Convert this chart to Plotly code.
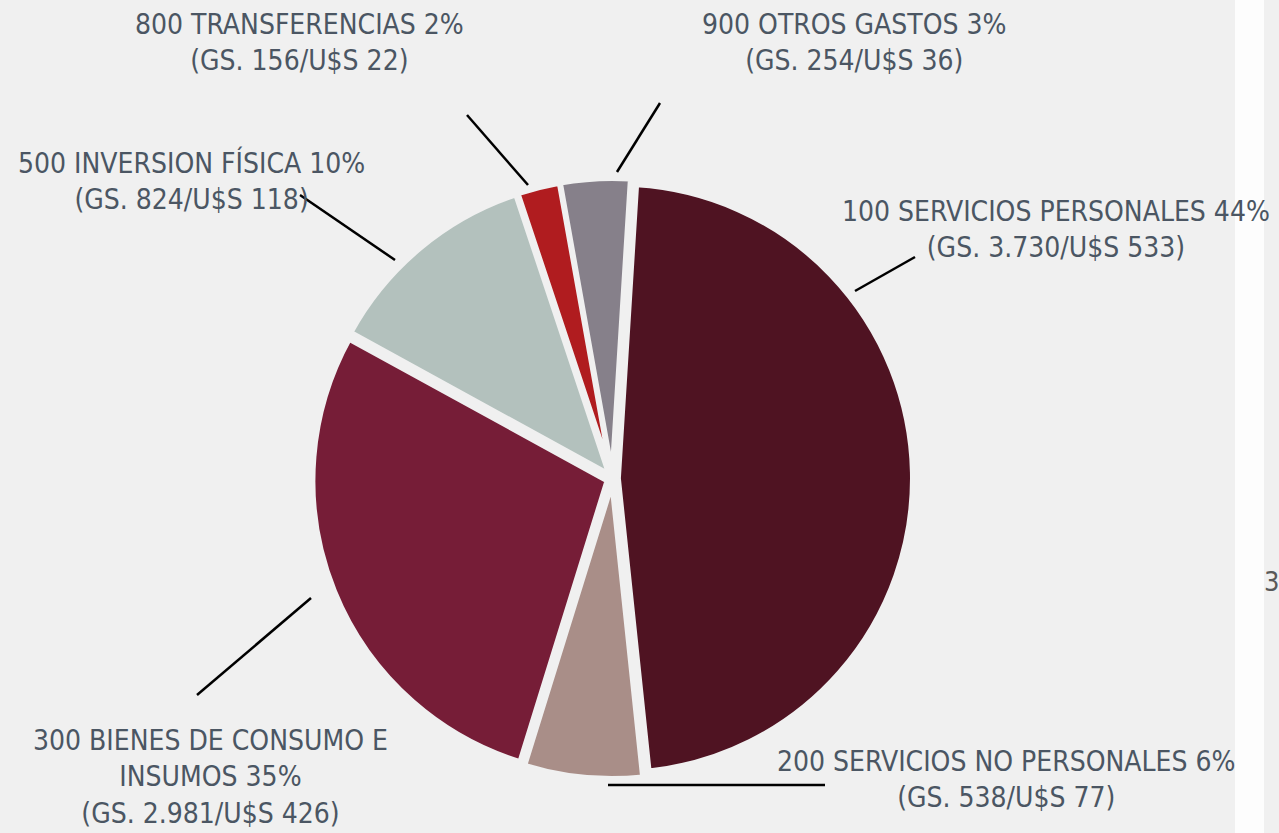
import plotly.graph_objects as go

W, H = 1279, 833

# ---- data ----
codes = ["100", "200", "300", "500", "800", "900"]
names = ["SERVICIOS PERSONALES", "SERVICIOS NO PERSONALES", "BIENES DE CONSUMO E INSUMOS",
         "INVERSION FÍSICA", "TRANSFERENCIAS", "OTROS GASTOS"]
label_pct = [44, 6, 35, 10, 2, 3]                       # percentages printed in labels
gs_values = ["3.730", "538", "2.981", "824", "156", "254"]  # GS. amounts printed
usd_values = [533, 77, 426, 118, 22, 36]                 # U$S amounts printed
# angular share of each drawn slice (%), estimated from the slice geometry
slice_share = [47.35, 6.45, 28.2, 11.9, 2.3, 3.8]
colors = ["#4f1322", "#a98e88", "#761d37", "#b3c1bd", "#b01c1f", "#86808a"]

BG = "#f0f0f0"
TXT = "#4b5663"
FONT = "DejaVu Sans Condensed, Liberation Sans Narrow, Arial Narrow, sans-serif"
FS = 28

def px(x):
    return x / W

def py(y):
    return 1 - y / H

# pie box (pixels): center and size
cx, cy, box = 612.5, 478.5, 600
fig = go.Figure()
fig.add_trace(go.Pie(
    values=slice_share,
    labels=[f"{c} {n}" for c, n in zip(codes, names)],
    marker=dict(colors=colors, line=dict(color=BG, width=5)),
    sort=False, direction="clockwise", rotation=3.55,
    pull=[0.02] * len(codes),
    textinfo="none", hoverinfo="label+percent",
    domain=dict(x=[px(cx - box / 2), px(cx + box / 2)],
                y=[py(cy + box / 2), py(cy - box / 2)]),
    showlegend=False,
))

# label texts and their positions (pixel centres)
label_text = [
    f"{codes[0]} {names[0]} {label_pct[0]}%<br>(GS. {gs_values[0]}/U$S {usd_values[0]})",
    f"{codes[1]} {names[1]} {label_pct[1]}%<br>(GS. {gs_values[1]}/U$S {usd_values[1]})",
    f"{codes[2]} BIENES DE CONSUMO E<br>INSUMOS {label_pct[2]}%<br>(GS. {gs_values[2]}/U$S {usd_values[2]})",
    f"{codes[3]} {names[3]} {label_pct[3]}%<br>(GS. {gs_values[3]}/U$S {usd_values[3]})",
    f"{codes[4]} {names[4]} {label_pct[4]}%<br>(GS. {gs_values[4]}/U$S {usd_values[4]})",
    f"{codes[5]} {names[5]} {label_pct[5]}%<br>(GS. {gs_values[5]}/U$S {usd_values[5]})",
]
label_pos = [(1056, 229), (1006, 779), (211, 777), (191, 181), (299, 43), (855, 43)]
leader = [((915, 257), (855, 291)), ((608, 785), (825, 785)), ((197, 695), (311, 598)),
          ((300, 195), (395, 260)), ((467, 115), (528, 185)), ((660, 103), (617, 172))]

for t, (x, y) in zip(label_text, label_pos):
    fig.add_annotation(text=t, x=px(x), y=py(y), xref="paper", yref="paper",
                       xanchor="center", yanchor="middle", align="center",
                       showarrow=False, font=dict(family=FONT, size=FS, color=TXT))

shapes = []
for (x0, y0), (x1, y1) in leader:
    shapes.append(dict(type="line", xref="paper", yref="paper",
                       x0=px(x0), y0=py(y0), x1=px(x1), y1=py(y1),
                       line=dict(color="black", width=2.5)))
# white strip at the right edge
shapes.append(dict(type="rect", xref="paper", yref="paper", x0=px(1235), x1=px(1264),
                   y0=0, y1=1, fillcolor="#fdfdfd", line=dict(width=0), layer="below"))
fig.add_annotation(text="3", x=px(1271), y=py(581), xref="paper", yref="paper",
                   xanchor="center", yanchor="middle", showarrow=False,
                   font=dict(family=FONT, size=27, color="#595959"))

fig.update_layout(
    width=W, height=H, margin=dict(l=0, r=0, t=0, b=0),
    paper_bgcolor=BG, plot_bgcolor=BG, shapes=shapes,
)
fig.write_html("out.html", config={"displayModeBar": False},
               post_script="document.body.style.margin='0';document.body.style.overflow='hidden';")
